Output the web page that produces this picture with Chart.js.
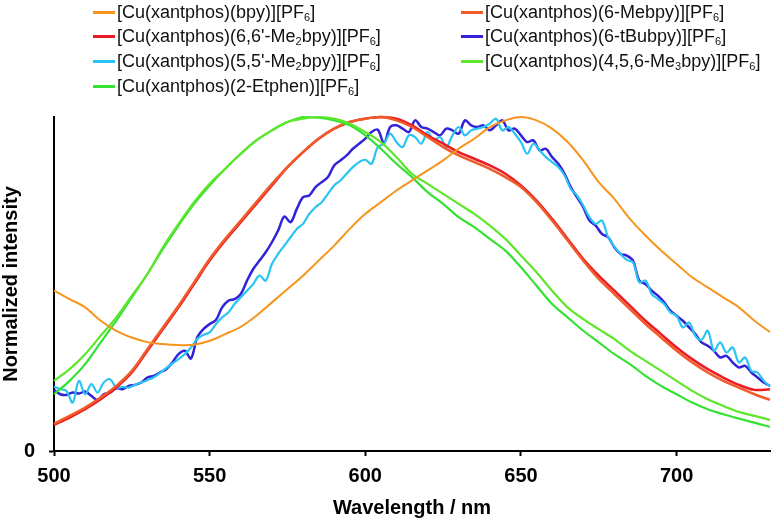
<!DOCTYPE html>
<html>
<head>
<meta charset="utf-8">
<script src="https://cdn.jsdelivr.net/npm/chart.js@4.4.1/dist/chart.umd.min.js"></script>
<style>
  body { margin: 0; background: #fff; }
  #wrap { position: relative; width: 774px; height: 523px; }
  #legend { position: absolute; left: 0; top: 0; width: 774px; height: 100px; font-family: "Liberation Sans", Arial, sans-serif; font-size: 18px; color: #111; }
  .item { position: absolute; display: flex; align-items: center; height: 22px; white-space: nowrap; }
  .swatch { display: inline-block; width: 22px; height: 3px; margin-right: 2px; }
  .item sub { font-size: 11px; vertical-align: -3px; }
</style>
</head>
<body>
<div id="wrap">
  <canvas id="chart"></canvas>
  <div id="legend"></div>
</div>
<script>
// series names, in legend order (row by row)
const names = [
  "[Cu(xantphos)(bpy)][PF₆]",
  "[Cu(xantphos)(6-Mebpy)][PF₆]",
  "[Cu(xantphos)(6,6'-Me₂bpy)][PF₆]",
  "[Cu(xantphos)(6-tBubpy)][PF₆]",
  "[Cu(xantphos)(5,5'-Me₂bpy)][PF₆]",
  "[Cu(xantphos)(4,5,6-Me₃bpy)][PF₆]",
  "[Cu(xantphos)(2-Etphen)][PF₆]"
];
const colors = ["#f7941d", "#f15a29", "#ed1c24", "#3222d8", "#29c3f4", "#5ee62b", "#33e233"];

// smooth spectra, every 5 nm from 500 to 730
const smoothStart = 500, smoothStep = 5;
const bpy = [0.48,0.455,0.43,0.39,0.36,0.34,0.326,0.32,0.317,0.318,0.33,0.35,0.372,0.405,0.445,0.485,0.525,0.57,0.615,0.665,0.71,0.745,0.78,0.81,0.84,0.87,0.905,0.935,0.97,0.99,1.0,0.99,0.965,0.925,0.87,0.805,0.755,0.695,0.645,0.60,0.56,0.52,0.49,0.46,0.43,0.39,0.356];
const meBpy = [0.082,0.105,0.13,0.16,0.195,0.24,0.305,0.37,0.435,0.505,0.575,0.635,0.69,0.745,0.80,0.85,0.895,0.935,0.965,0.985,0.995,1.0,0.99,0.97,0.94,0.91,0.885,0.865,0.845,0.82,0.79,0.745,0.69,0.63,0.57,0.515,0.47,0.425,0.38,0.34,0.30,0.265,0.235,0.21,0.19,0.17,0.153];
const me2Bpy66 = [0.078,0.10,0.125,0.155,0.19,0.235,0.30,0.365,0.43,0.50,0.57,0.63,0.685,0.74,0.795,0.85,0.895,0.935,0.965,0.985,0.995,1.0,0.995,0.975,0.945,0.92,0.895,0.875,0.855,0.83,0.795,0.75,0.695,0.635,0.575,0.525,0.48,0.435,0.39,0.35,0.31,0.275,0.245,0.22,0.198,0.183,0.185];
const me3Bpy = [0.21,0.245,0.29,0.345,0.40,0.465,0.53,0.61,0.68,0.745,0.80,0.845,0.89,0.93,0.96,0.985,0.995,1.0,0.995,0.98,0.955,0.925,0.88,0.83,0.80,0.77,0.74,0.71,0.675,0.635,0.585,0.535,0.48,0.43,0.395,0.365,0.335,0.30,0.27,0.24,0.21,0.18,0.155,0.135,0.117,0.105,0.093];
const etphen = [0.17,0.21,0.26,0.325,0.39,0.46,0.53,0.605,0.675,0.74,0.795,0.845,0.89,0.93,0.96,0.985,1.0,0.998,0.99,0.975,0.945,0.905,0.86,0.82,0.775,0.74,0.70,0.67,0.635,0.60,0.55,0.495,0.44,0.40,0.36,0.325,0.29,0.26,0.225,0.195,0.17,0.145,0.125,0.11,0.097,0.085,0.072];

// noisy spectra, every 2 nm from 500 to 730
const noisyStart = 500, noisyStep = 2;
const tBuBpy = [0.183,0.17,0.168,0.175,0.172,0.178,0.165,0.153,0.17,0.175,
  0.188,0.185,0.195,0.198,0.205,0.22,0.225,0.235,0.245,0.265,
  0.29,0.30,0.277,0.34,0.365,0.38,0.392,0.43,0.45,0.455,
  0.47,0.51,0.545,0.57,0.595,0.625,0.66,0.702,0.685,0.725,
  0.76,0.765,0.79,0.805,0.82,0.855,0.87,0.885,0.905,0.92,
  0.935,0.955,0.962,0.922,0.97,0.975,0.965,0.955,0.99,0.97,
  0.965,0.955,0.945,0.965,0.96,0.95,0.99,0.975,0.97,0.975,
  0.96,0.975,0.99,0.96,0.965,0.945,0.925,0.93,0.90,0.905,
  0.88,0.86,0.83,0.79,0.76,0.73,0.69,0.675,0.65,0.64,
  0.61,0.59,0.585,0.57,0.51,0.50,0.48,0.465,0.445,0.42,
  0.405,0.39,0.37,0.35,0.325,0.315,0.30,0.28,0.285,0.265,
  0.25,0.255,0.235,0.22,0.205,0.195];
const me2Bpy55 = [0.193,0.185,0.18,0.145,0.21,0.17,0.20,0.175,0.205,0.215,
  0.19,0.192,0.19,0.198,0.205,0.212,0.22,0.233,0.248,0.262,
  0.275,0.29,0.31,0.335,0.348,0.355,0.38,0.40,0.415,0.44,
  0.46,0.48,0.50,0.525,0.51,0.56,0.59,0.615,0.64,0.665,
  0.68,0.71,0.73,0.745,0.77,0.795,0.81,0.83,0.85,0.865,
  0.872,0.86,0.91,0.92,0.95,0.925,0.91,0.945,0.94,0.92,
  0.955,0.93,0.94,0.91,0.945,0.97,0.945,0.96,0.965,0.97,
  0.98,0.995,0.96,0.97,0.95,0.925,0.89,0.92,0.90,0.88,
  0.865,0.85,0.825,0.785,0.765,0.735,0.70,0.68,0.69,0.64,
  0.612,0.59,0.572,0.565,0.505,0.51,0.47,0.455,0.44,0.415,
  0.405,0.37,0.385,0.345,0.333,0.36,0.30,0.325,0.295,0.31,
  0.265,0.28,0.24,0.235,0.21,0.193];

const xTicks = [500, 550, 600, 650, 700];
const yTicks = [0];

function toPoints(vals, start, step) {
  return vals.map((v, i) => ({ x: start + i * step, y: v }));
}

const series = [
  { data: toPoints(bpy, smoothStart, smoothStep), width: 2 },
  { data: toPoints(meBpy, smoothStart, smoothStep), width: 2.5 },
  { data: toPoints(me2Bpy66, smoothStart, smoothStep), width: 2.5 },
  { data: toPoints(tBuBpy, noisyStart, noisyStep), width: 2.5 },
  { data: toPoints(me2Bpy55, noisyStart, noisyStep), width: 2.2 },
  { data: toPoints(me3Bpy, smoothStart, smoothStep), width: 2.2 },
  { data: toPoints(etphen, smoothStart, smoothStep), width: 2.2 }
];

// draw the noisy ones last so they sit on top like the original
const order = [0, 5, 6, 1, 2, 4, 3];

const ctx = document.querySelector("#chart").getContext("2d");
Chart.defaults.font.family = "'Liberation Sans', Arial, sans-serif";
Chart.defaults.color = "#000";

new Chart(ctx, {
  type: "line",
  data: {
    datasets: series.map((s, i) => ({
      label: names[i],
      data: s.data,
      borderColor: colors[i],
      backgroundColor: colors[i],
      borderWidth: s.width,
      pointRadius: 0,
      tension: 0.35,
      clip: false,
      order: order.indexOf(i)
    }))
  },
  options: {
    responsive: true,
    maintainAspectRatio: false,
    animation: false,
    layout: { padding: { top: 117, right: 4, left: 0, bottom: 0 } },
    plugins: { legend: { display: false }, tooltip: { enabled: false } },
    scales: {
      x: {
        type: "linear",
        min: 500,
        max: 730,
        afterBuildTicks: s => { s.ticks = xTicks.map(v => ({ value: v })); },
        afterFit: s => { s.height = 72; },
        ticks: { font: { size: 20, weight: "bold" }, color: "#000", padding: 8, maxRotation: 0 },
        grid: { drawOnChartArea: false, tickLength: 5, tickWidth: 2, color: "#000" },
        border: { color: "#000", width: 2 },
        title: { display: true, text: "Wavelength / nm", font: { size: 20, weight: "bold" }, color: "#000", padding: { top: 0, bottom: 3 } }
      },
      y: {
        min: 0,
        max: 1,
        afterBuildTicks: s => { s.ticks = yTicks.map(v => ({ value: v })); },
        afterFit: s => { s.width = 54; },
        ticks: { font: { size: 20, weight: "bold" }, color: "#000", padding: 14 },
        grid: { drawOnChartArea: false, tickLength: 5, tickWidth: 2, color: "#000" },
        border: { color: "#000", width: 2 },
        title: { display: true, text: "Normalized intensity", font: { size: 20, weight: "bold", lineHeight: 1 }, color: "#000", padding: { top: 1, bottom: 0 } }
      }
    }
  }
});

// legend in two columns, like the original
const legend = document.querySelector("#legend");
const colX = [93, 461];
const rowY = [1, 25, 50, 75];
names.forEach((name, i) => {
  const item = document.createElement("div");
  item.className = "item";
  item.style.left = colX[i % 2] + "px";
  item.style.top = rowY[Math.floor(i / 2)] + "px";
  const sw = document.createElement("span");
  sw.className = "swatch";
  sw.style.background = colors[i];
  const txt = document.createElement("span");
  txt.innerHTML = name.replace(/[₀-₉]/g, c => "<sub>" + (c.charCodeAt(0) - 0x2080) + "</sub>");
  item.appendChild(sw);
  item.appendChild(txt);
  legend.appendChild(item);
});
</script>
</body>
</html>
